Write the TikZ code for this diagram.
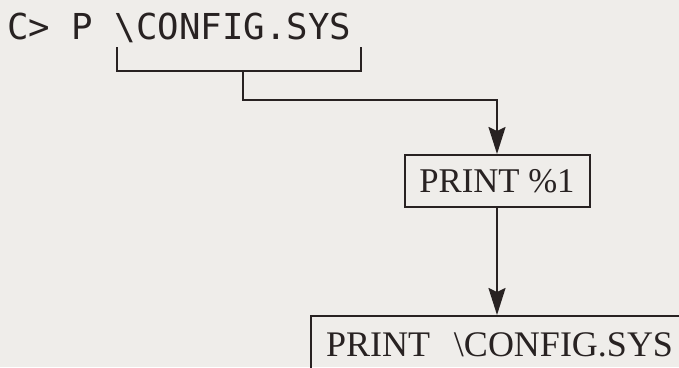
\documentclass[tikz,border=0pt]{standalone}
\usepackage{fontspec}
\setmainfont{Liberation Serif}
\newfontfamily\cmdfont{DejaVu Sans Mono}
\usetikzlibrary{arrows.meta}
\definecolor{bg}{RGB}{239,237,234}
\definecolor{ink}{RGB}{40,34,34}
\tikzset{
  wire/.style={draw=ink, line width=2pt},
  arrowwire/.style={wire, -{Stealth[length=27pt,width=17pt,inset=4pt]}},
  boxnode/.style={draw=ink, line width=2pt, text=ink, font=\fontsize{34.7}{40}\selectfont, inner sep=0pt}
}
\begin{document}
\begin{tikzpicture}[x=1pt,y=-1pt]
\useasboundingbox (0,0) rectangle (679,367);
\fill[bg] (0,0) rectangle (679,367);
\clip (0,0) rectangle (679,367);
\node[anchor=base west, inner sep=0pt, text=ink, font=\cmdfont\fontsize{35.7}{40}\selectfont] (cmd) at (7,39) {C> P \textbackslash CONFIG.SYS};
\coordinate (bl) at (117,47);
\coordinate (br) at (361,47);
\coordinate (stem) at (243,71);
\coordinate (turn) at (243,100);
\node[boxnode, minimum width=185pt, minimum height=52pt] (box1) at (497,181) {PRINT \%1};
\node[boxnode, font=\fontsize{36}{40}\selectfont, anchor=north west, minimum width=400pt, minimum height=58pt, text width=370pt, align=left, inner xsep=14pt] (box2) at (310,315) {PRINT\ \ \textbackslash CONFIG.SYS};
\draw[wire] (bl) -- (bl |- stem) -- (br |- stem) -- (br);
\draw[arrowwire] (stem) -- (turn) -- (turn -| box1.north) -- (box1.north);
\draw[arrowwire] (box1.south) -- (box1.south |- box2.north);
\end{tikzpicture}
\end{document}
